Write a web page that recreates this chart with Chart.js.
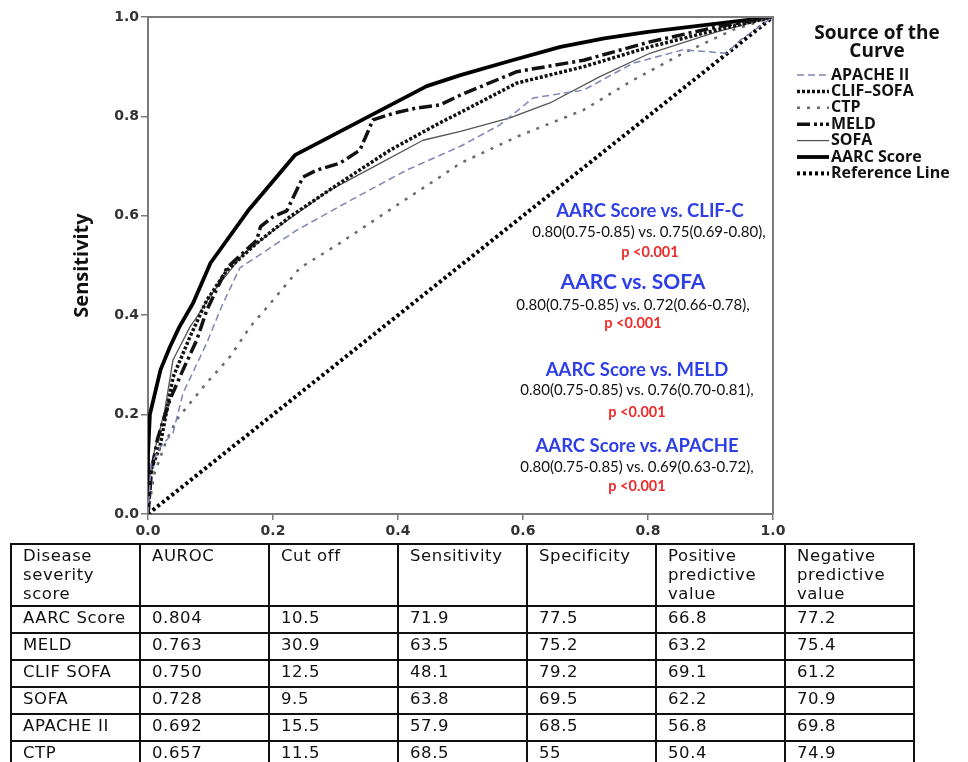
<!DOCTYPE html>
<html>
<head>
<meta charset="utf-8">
<script src="https://cdn.jsdelivr.net/npm/chart.js@4"></script>
<style>
  body { margin: 0; background: #fff; width: 968px; height: 762px; overflow: hidden; position: relative; }
  #wrap { position: absolute; left: 0; top: 0; width: 968px; height: 545px; }
  .note { position: absolute; width: 320px; text-align: center; font-family: Lato, sans-serif; white-space: nowrap; }
  .blue { color: #2f3fe8; font-weight: bold; font-size: 18.5px; }
  .big { font-size: 21px; }
  .black { color: #111; font-size: 15px; }
  .red { color: #ee2b2b; font-weight: bold; font-size: 14.5px; }
  table { position: absolute; left: 10px; top: 543px; width: 905px; border-collapse: collapse;
          font-family: "DejaVu Sans", sans-serif; font-size: 16.5px; letter-spacing: 0.6px; color: #111; table-layout: fixed; }
  td { border: 2px solid #111; padding: 1px 8px 2px 11px; vertical-align: top; line-height: 19px; height: 22px; }
  tr.head td { height: 54px; }
</style>
</head>
<body>
<div id="wrap"><canvas id="myChart"></canvas></div>

<div class="note blue" style="left:490px; top:199px;">AARC Score vs. CLIF-C</div>
<div class="note black" style="left:489px; top:222px;">0.80(0.75-0.85) vs. 0.75(0.69-0.80),</div>
<div class="note red" style="left:490px; top:243px;">p &lt;0.001</div>

<div class="note blue big" style="left:473px; top:268px;">AARC vs. SOFA</div>
<div class="note black" style="left:473px; top:295px;">0.80(0.75-0.85) vs. 0.72(0.66-0.78),</div>
<div class="note red" style="left:473px; top:314px;">p &lt;0.001</div>

<div class="note blue" style="left:477px; top:358px;">AARC Score vs. MELD</div>
<div class="note black" style="left:477px; top:380px;">0.80(0.75-0.85) vs. 0.76(0.70-0.81),</div>
<div class="note red" style="left:477px; top:403px;">p &lt;0.001</div>

<div class="note blue" style="left:477px; top:434px;">AARC Score vs. APACHE</div>
<div class="note black" style="left:477px; top:457px;">0.80(0.75-0.85) vs. 0.69(0.63-0.72),</div>
<div class="note red" style="left:477px; top:477px;">p &lt;0.001</div>

<table id="tbl"></table>

<script>
// ROC curves: false positive rate (1 - specificity) and sensitivity
var apacheFpr = [0, 0.005, 0.02, 0.04, 0.056, 0.094, 0.12, 0.147, 0.238, 0.334, 0.414, 0.5, 0.563, 0.616, 0.697, 0.776, 0.856, 0.926, 0.947, 1];
var apacheSens = [0, 0.1, 0.135, 0.163, 0.243, 0.344, 0.424, 0.495, 0.571, 0.638, 0.692, 0.74, 0.783, 0.837, 0.853, 0.907, 0.934, 0.927, 0.953, 1];

var clifFpr = [0, 0.005, 0.019, 0.04, 0.067, 0.094, 0.126, 0.174, 0.227, 0.307, 0.387, 0.467, 0.5, 0.59, 0.697, 0.803, 0.91, 1];
var clifSens = [0, 0.09, 0.135, 0.275, 0.356, 0.43, 0.49, 0.545, 0.598, 0.666, 0.732, 0.787, 0.808, 0.867, 0.9, 0.94, 0.974, 1];

var ctpFpr = [0, 0.01, 0.03, 0.046, 0.062, 0.094, 0.131, 0.163, 0.2, 0.243, 0.307, 0.387, 0.467, 0.5, 0.59, 0.697, 0.776, 0.856, 0.936, 1];
var ctpSens = [0, 0.08, 0.15, 0.19, 0.215, 0.264, 0.316, 0.376, 0.43, 0.495, 0.545, 0.612, 0.678, 0.706, 0.759, 0.813, 0.873, 0.927, 0.974, 1];

var meldFpr = [0, 0.005, 0.015, 0.035, 0.056, 0.078, 0.094, 0.126, 0.174, 0.18, 0.2, 0.222, 0.248, 0.27, 0.307, 0.339, 0.36, 0.392, 0.43, 0.467, 0.5, 0.59, 0.697, 0.803, 0.91, 1];
var meldSens = [0, 0.08, 0.15, 0.23, 0.29, 0.35, 0.41, 0.495, 0.551, 0.578, 0.598, 0.61, 0.678, 0.692, 0.706, 0.732, 0.793, 0.806, 0.817, 0.823, 0.843, 0.89, 0.913, 0.95, 0.98, 1];

var sofaFpr = [0, 0.005, 0.027, 0.04, 0.067, 0.078, 0.1, 0.15, 0.2, 0.286, 0.36, 0.44, 0.5, 0.579, 0.643, 0.723, 0.803, 0.91, 1];
var sofaSens = [0, 0.1, 0.21, 0.31, 0.376, 0.396, 0.44, 0.52, 0.57, 0.648, 0.698, 0.752, 0.77, 0.797, 0.827, 0.88, 0.927, 0.97, 1];

var aarcFpr = [0, 0, 0.003, 0.02, 0.035, 0.05, 0.072, 0.1, 0.16, 0.235, 0.446, 0.5, 0.58, 0.66, 0.73, 0.8, 0.9, 1];
var aarcSens = [0, 0.12, 0.2, 0.29, 0.336, 0.376, 0.424, 0.505, 0.61, 0.722, 0.861, 0.883, 0.912, 0.94, 0.957, 0.97, 0.985, 1];

var refFpr = [0, 1];
var refSens = [0, 1];

var xTicks = [0, 0.2, 0.4, 0.6, 0.8, 1.0];
var yTicks = [0, 0.2, 0.4, 0.6, 0.8, 1.0];

// table under the chart
var tableHead = ["Disease severity score", "AUROC", "Cut off", "Sensitivity", "Specificity", "Positive predictive value", "Negative predictive value"];
var scoreNames = ["AARC Score", "MELD", "CLIF SOFA", "SOFA", "APACHE II", "CTP"];
var auroc = ["0.804", "0.763", "0.750", "0.728", "0.692", "0.657"];
var cutOff = ["10.5", "30.9", "12.5", "9.5", "15.5", "11.5"];
var sensitivity = ["71.9", "63.5", "48.1", "63.8", "57.9", "68.5"];
var specificity = ["77.5", "75.2", "79.2", "69.5", "68.5", "55"];
var ppv = ["66.8", "63.2", "69.1", "62.2", "56.8", "50.4"];
var npv = ["77.2", "75.4", "61.2", "70.9", "69.8", "74.9"];

function pts(xs, ys){
    var out = [];
    for (var i = 0; i < xs.length; i++){
        out.push({x: xs[i], y: ys[i]});
    }
    return out;
}

var html = '<tr class="head">';
for (var i = 0; i < tableHead.length; i++){
    html += '<td>' + tableHead[i] + '</td>';
}
html += '</tr>';
for (var i = 0; i < scoreNames.length; i++){
    html += '<tr><td>' + scoreNames[i] + '</td><td>' + auroc[i] + '</td><td>' + cutOff[i] + '</td><td>' +
        sensitivity[i] + '</td><td>' + specificity[i] + '</td><td>' + ppv[i] + '</td><td>' + npv[i] + '</td></tr>';
}
document.getElementById('tbl').innerHTML = html;

// frame round the plot plus the "Source of the Curve" legend
var framePlugin = {
    id: 'frame',
    afterDatasetsDraw: function(chart){
        var ctx = chart.ctx, a = chart.chartArea;
        ctx.save();
        ctx.strokeStyle = '#7a7a7a';
        ctx.lineWidth = 2;
        ctx.beginPath();
        ctx.moveTo(a.left, a.top);
        ctx.lineTo(a.right, a.top);
        ctx.lineTo(a.right, a.bottom);
        ctx.stroke();
        ctx.restore();
    },
    afterDraw: function(chart){
        var ctx = chart.ctx;
        ctx.save();
        ctx.fillStyle = '#111';
        ctx.textAlign = 'center';
        ctx.textBaseline = 'middle';
        ctx.font = 'bold 19px "Open Sans"';
        ctx.fillText('Source of the', 877, 34);
        ctx.fillText('Curve', 877, 52);
        ctx.textAlign = 'left';
        ctx.font = 'bold 16px "Open Sans"';
        var y0 = 75, step = 16.4;
        chart.data.datasets.forEach(function(ds, i){
            var y = y0 + i * step;
            ctx.save();
            ctx.strokeStyle = ds.borderColor;
            ctx.lineWidth = ds.borderWidth;
            ctx.setLineDash(ds.legendDash || ds.borderDash || []);
            ctx.beginPath();
            ctx.moveTo(797, y);
            ctx.lineTo(829, y);
            ctx.stroke();
            ctx.restore();
            ctx.fillText(ds.label, 831, y);
        });
        ctx.restore();
    }
};

function grafico(){
    var ctx = document.getElementById('myChart').getContext('2d');
    var chart = new Chart(ctx, {
        type: 'line',
        data: {
            datasets: [{
                label: 'APACHE II',
                data: pts(apacheFpr, apacheSens),
                borderColor: '#7e86b4',
                borderWidth: 1.5,
                borderDash: [7, 4]
            }, {
                label: 'CLIF\u2013SOFA',
                data: pts(clifFpr, clifSens),
                borderColor: '#111',
                borderWidth: 3.5,
                borderDash: [3, 2]
            }, {
                label: 'CTP',
                data: pts(ctpFpr, ctpSens),
                borderColor: '#6a6a6a',
                borderWidth: 2.5,
                borderDash: [3, 7]
            }, {
                label: 'MELD',
                data: pts(meldFpr, meldSens),
                borderColor: '#111',
                borderWidth: 3.5,
                borderDash: [13, 4, 3, 4],
                legendDash: [13, 4, 3, 3, 3, 3]
            }, {
                label: 'SOFA',
                data: pts(sofaFpr, sofaSens),
                borderColor: '#555',
                borderWidth: 1.3
            }, {
                label: 'AARC Score',
                data: pts(aarcFpr, aarcSens),
                borderColor: '#000',
                borderWidth: 3.8
            }, {
                label: 'Reference Line',
                data: pts(refFpr, refSens),
                borderColor: '#000',
                borderWidth: 4,
                borderDash: [3, 3]
            }]
        },
        options: {
            responsive: true,
            maintainAspectRatio: false,
            animation: false,
            elements: {
                point: { radius: 0 },
                line: { tension: 0, fill: false, borderJoinStyle: 'round' }
            },
            layout: { padding: { left: 66, right: 195, top: 17, bottom: 0 } },
            plugins: {
                legend: { display: false },
                tooltip: { enabled: false }
            },
            scales: {
                x: {
                    type: 'linear',
                    min: 0,
                    max: 1,
                    afterFit: function(s){ s.height = 31; },
                    afterBuildTicks: function(s){ s.ticks = xTicks.map(function(v){ return {value: v}; }); },
                    ticks: {
                        callback: function(v){ return v.toFixed(1); },
                        font: { family: 'DejaVu Sans', weight: 'bold', size: 14 },
                        color: '#333',
                        padding: 3,
                        maxRotation: 0
                    },
                    grid: { drawOnChartArea: false, drawTicks: true, tickLength: 6, color: '#7a7a7a', lineWidth: 1.5 },
                    border: { color: '#7a7a7a', width: 2 }
                },
                y: {
                    type: 'linear',
                    min: 0,
                    max: 1,
                    afterFit: function(s){ s.width = 82; },
                    afterBuildTicks: function(s){ s.ticks = yTicks.map(function(v){ return {value: v}; }); },
                    ticks: {
                        callback: function(v){ return v.toFixed(1); },
                        font: { family: 'DejaVu Sans', weight: 'bold', size: 14 },
                        color: '#333',
                        padding: 2
                    },
                    grid: { drawOnChartArea: false, drawTicks: true, tickLength: 7, color: '#7a7a7a', lineWidth: 1.5 },
                    border: { color: '#7a7a7a', width: 2 },
                    title: {
                        display: true,
                        text: 'Sensitivity',
                        font: { family: 'Open Sans', weight: 'bold', size: 20 },
                        color: '#111',
                        padding: { top: 4, bottom: 0 }
                    }
                }
            }
        },
        plugins: [framePlugin]
    });
}

grafico();
</script>
</body>
</html>
